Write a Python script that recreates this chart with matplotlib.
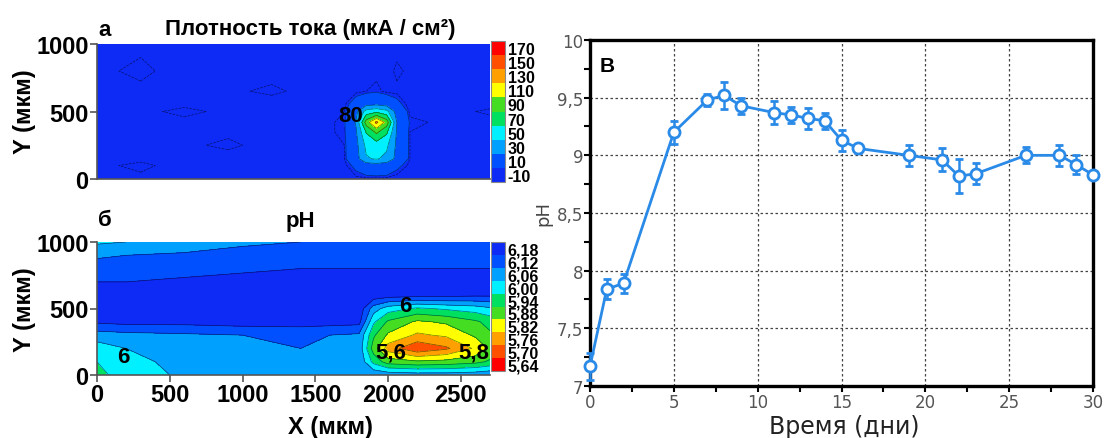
import numpy as np
import matplotlib.pyplot as plt
from matplotlib.colors import ListedColormap

# current density map (мкА/см2), rows go from y=0 up to y=1000
cd_x = [0, 300, 600, 900, 1200, 1500, 1700, 1780, 1850, 1920, 1990, 2060, 2150, 2400, 2700]
cd_y = [0, 100, 150, 250, 350, 420, 500, 560, 650, 800, 1000]
cd_z = [
    [-4, -3, -4, -3, -4, -3, -4, -3, -3, -3, -3, -4, -3, -4, -3],
    [-3, -1, -4, -3, -4, -3, -3, 2, 8, 10, 8, 2, -3, -3, -4],
    [-4, -3, -3, -4, -3, -4, -2, 12, 38, 42, 35, 14, -2, -4, -3],
    [-3, -4, -3, -1, -4, -3, -2, 14, 45, 50, 44, 16, -2, -3, -4],
    [-4, -3, -4, -3, -3, -4, -1, 18, 62, 85, 64, 18, -2, -4, -3],
    [-3, -4, -3, -4, -3, -4, -1, 22, 90, 125, 92, 20, -1, -3, -4],
    [-4, -3, -1, -3, -4, -3, -2, 15, 48, 55, 46, 12, -3, -4, -1],
    [-3, -4, -3, -4, -4, -3, -3, 4, 10, 12, 8, 2, -4, -3, -4],
    [-4, -3, -4, -3, -1, -4, -3, -3, -2, -1, -3, -3, -4, -3, -4],
    [-3, -1, -4, -3, -4, -3, -4, -3, -4, -3, -4, -1, -3, -4, -3],
    [-4, -3, -3, -4, -3, -4, -3, -4, -3, -4, -3, -4, -3, -3, -4],
]
cd_levels = [-20, 0, 20, 40, 60, 80, 100, 120, 140, 160, 180]
cd_lines = [-2, 0, 20, 40, 60, 80, 100, 120]
cd_labels = ['-10', '10', '30', '50', '70', '90', '110', '130', '150', '170']

# pH map
ph_x = [0, 200, 600, 1000, 1400, 1800, 1900, 2000, 2200, 2400, 2600, 2700]
ph_y = [0, 100, 200, 300, 400, 500, 600, 700, 800, 900, 1000]
ph_z = [
    [5.95, 6.00, 6.04, 6.07, 6.08, 6.09, 6.08, 6.07, 6.06, 6.06, 6.07, 6.08],
    [5.97, 6.01, 6.05, 6.07, 6.08, 6.08, 5.95, 5.88, 5.86, 5.87, 5.89, 5.92],
    [6.00, 6.03, 6.06, 6.08, 6.09, 6.07, 5.88, 5.76, 5.68, 5.72, 5.80, 5.86],
    [6.06, 6.07, 6.08, 6.09, 6.10, 6.08, 5.92, 5.84, 5.78, 5.80, 5.86, 5.90],
    [6.16, 6.17, 6.17, 6.18, 6.18, 6.17, 5.98, 5.90, 5.84, 5.86, 5.90, 5.93],
    [6.19, 6.19, 6.19, 6.19, 6.19, 6.19, 6.06, 6.00, 5.96, 5.98, 6.00, 6.02],
    [6.18, 6.19, 6.19, 6.19, 6.19, 6.19, 6.19, 6.18, 6.17, 6.17, 6.16, 6.16],
    [6.15, 6.15, 6.16, 6.17, 6.17, 6.18, 6.18, 6.18, 6.17, 6.16, 6.16, 6.16],
    [6.12, 6.12, 6.13, 6.14, 6.15, 6.15, 6.15, 6.15, 6.15, 6.15, 6.15, 6.15],
    [6.08, 6.09, 6.10, 6.11, 6.12, 6.13, 6.13, 6.13, 6.13, 6.14, 6.14, 6.14],
    [6.02, 6.03, 6.05, 6.08, 6.09, 6.10, 6.11, 6.11, 6.12, 6.12, 6.12, 6.12],
]
ph_levels = [5.61, 5.67, 5.73, 5.79, 5.85, 5.91, 5.97, 6.03, 6.09, 6.15, 6.21]
ph_labels = ['5,64', '5,70', '5,76', '5,82', '5,88', '5,94', '6,00', '6,06', '6,12', '6,18']

# pH over time
days = [0, 1, 2, 5, 7, 8, 9, 11, 12, 13, 14, 15, 16, 19, 21, 22, 23, 26, 28, 29, 30]
ph_mean = [7.17, 7.84, 7.89, 9.20, 9.48, 9.52, 9.43, 9.37, 9.35, 9.32, 9.30, 9.13, 9.06,
           9.00, 8.96, 8.82, 8.84, 9.00, 9.00, 8.92, 8.83]
ph_err = [0.12, 0.09, 0.08, 0.10, 0.05, 0.12, 0.07, 0.10, 0.07, 0.09, 0.07, 0.09, 0.04,
          0.09, 0.10, 0.15, 0.09, 0.07, 0.09, 0.08, 0.03]

band_colors = ['#0e2af5', '#0050ff', '#00a0ff', '#00f0ff', '#00e060',
               '#44dd22', '#ffff00', '#ffa000', '#ff5000', '#ff0000']

W, H = 1109, 439
fig = plt.figure(figsize=(W / 100, H / 100), dpi=100)

def box(l, t, r, b):
    return [l / W, 1 - b / H, (r - l) / W, (b - t) / H]

bold = dict(family='Liberation Sans', weight='bold')

def heat(ax, cax, x, y, z, levels, lines, cmap, labels):
    X, Y = np.meshgrid(x, y)
    Z = np.array(z)
    cf = ax.contourf(X, Y, Z, levels=levels, cmap=cmap)
    ax.contour(X, Y, Z, levels=lines, colors='k', linewidths=0.5, alpha=0.55)
    ax.set_xlim(0, 2700)
    ax.set_ylim(0, 1000)
    ax.set_yticks([0, 500, 1000])
    ax.set_yticklabels(['0', '500', '1000'], fontsize=17, **bold)
    for s in ['top', 'right']:
        ax.spines[s].set_visible(False)
    for s in ['left', 'bottom']:
        ax.spines[s].set_color('#555555')
        ax.spines[s].set_linewidth(1.2)
    ax.tick_params(length=5, width=1.2, color='#555555', pad=1)
    centers = [(levels[i] + levels[i + 1]) / 2 for i in range(len(levels) - 1)]
    cb = fig.colorbar(cf, cax=cax, ticks=centers)
    cb.ax.set_yticklabels(labels, fontsize=11.5, **bold)
    cb.ax.tick_params(length=0, pad=2)
    cb.outline.set_edgecolor('#888888')
    cb.outline.set_linewidth(0.8)
    return cf

cmap_cd = ListedColormap(band_colors)
cmap_ph = ListedColormap(band_colors[::-1])

ax_a = fig.add_axes(box(97, 45, 490, 180))
cax_a = fig.add_axes(box(491, 42, 505, 183))
heat(ax_a, cax_a, cd_x, cd_y, cd_z, cd_levels, cd_lines, cmap_cd, cd_labels)
ax_a.set_xticks([])
ax_a.text(1742, 467, '80', fontsize=16, ha='center', va='center', **bold)

ax_b = fig.add_axes(box(97, 243, 490, 376))
cax_b = fig.add_axes(box(491, 243, 505, 372))
heat(ax_b, cax_b, ph_x, ph_y, ph_z, ph_levels, ph_levels[1:-1], cmap_ph, ph_labels)
ax_b.set_xticks([0, 500, 1000, 1500, 2000, 2500])
ax_b.set_xticklabels(['0', '500', '1000', '1500', '2000', '2500'], fontsize=17, **bold)
ax_b.text(2121, 520, '6', fontsize=16, ha='center', va='center', **bold)
ax_b.text(2018, 175, '5,6', fontsize=16, ha='center', va='center', **bold)
ax_b.text(2590, 175, '5,8', fontsize=16, ha='center', va='center', **bold)
ax_b.text(179, 140, '6', fontsize=16, ha='center', va='center', **bold)

fig.text(105 / W, 1 - 30 / H, 'а', fontsize=16, ha='center', va='center', **bold)
fig.text(310 / W, 1 - 30 / H, 'Плотность тока (мкА / см²)', fontsize=16, ha='center', va='center', **bold)
fig.text(105 / W, 1 - 221 / H, 'б', fontsize=16, ha='center', va='center', **bold)
fig.text(300 / W, 1 - 222 / H, 'pH', fontsize=16, ha='center', va='center', **bold)
fig.text(25 / W, 1 - 112 / H, 'Y (мкм)', fontsize=17, rotation=90, ha='center', va='center', **bold)
fig.text(25 / W, 1 - 310 / H, 'Y (мкм)', fontsize=17, rotation=90, ha='center', va='center', **bold)
fig.text(330 / W, 1 - 428 / H, 'X (мкм)', fontsize=17, ha='center', va='center', **bold)

# right panel
ax = fig.add_axes(box(590, 41, 1093, 387))
blue = '#2a8ae8'
ax.errorbar(days, ph_mean, yerr=ph_err, color=blue, lw=2, marker='o', ms=8,
            mfc='white', mec=blue, mew=2, elinewidth=1.8, capsize=3, capthick=1.8,
            zorder=3, clip_on=False)
ax.set_xlim(0, 30)
ax.set_ylim(7, 10)
ax.set_xticks(range(0, 31, 5))
ax.set_xticks(np.arange(2.5, 30, 5), minor=True)
ax.set_yticks([7, 7.5, 8, 8.5, 9, 9.5, 10])
ax.set_yticks(np.arange(7.25, 10, 0.5), minor=True)
ax.set_yticklabels(['7', '7,5', '8', '8,5', '9', '9,5', '10'])
ax.grid(True, which='major', ls=(0, (2, 2)), color='#444444', lw=0.9)
for s in ax.spines.values():
    s.set_linewidth(2.4)
    s.set_color('black')
ax.tick_params(which='both', direction='out', length=4, width=1.5, labelsize=12,
               labelcolor='#555555', pad=1)
ax.set_xlabel('Время (дни)', fontsize=17, color='#222222')
ax.xaxis.set_label_coords(0.505, -0.08)
ax.set_ylabel('pH', fontsize=13, color='#444444')
ax.yaxis.set_label_coords(-0.075, 0.5)
ax.text(0.02, 0.955, 'В', transform=ax.transAxes, fontsize=15, ha='left', va='top', **bold)

fig.savefig('out.png', dpi=100)
